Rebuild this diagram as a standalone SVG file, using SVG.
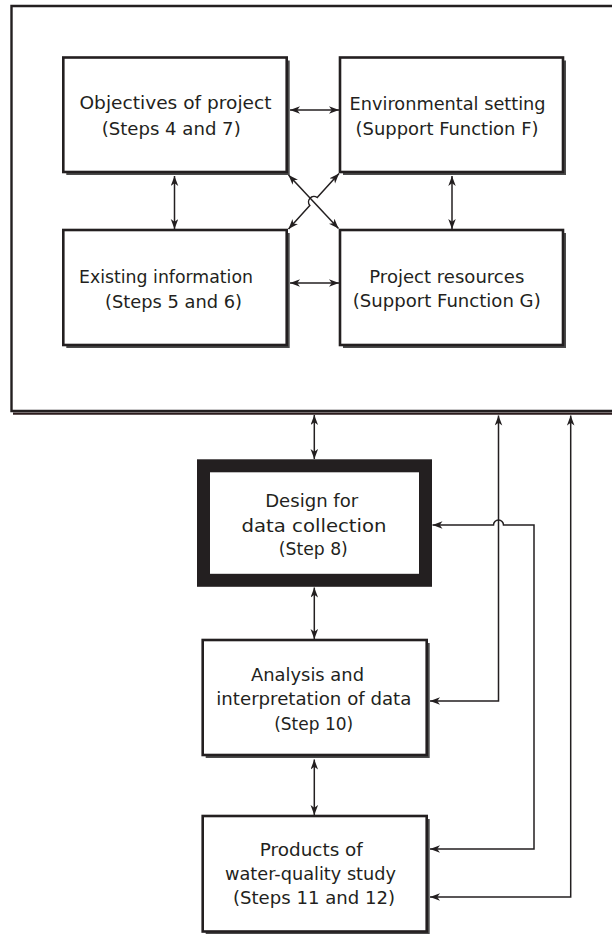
<svg xmlns="http://www.w3.org/2000/svg" width="612" height="934" viewBox="0 0 612 934">
  <style>
    .box { fill: #ffffff; stroke: #231f20; stroke-width: 2.6; }
    .shadow { fill: #4a4a4a; }
    .thick { fill: #ffffff; stroke: #231f20; stroke-width: 13; }
    .frame { fill: none; stroke: #231f20; stroke-width: 2.4; }
    .label { font-family: "DejaVu Sans", "Liberation Sans", sans-serif; font-size: 18.5px; fill: #231f20; text-anchor: middle; }
    .link { fill: none; stroke: #231f20; stroke-width: 1.5; marker-start: url(#head); marker-end: url(#head); }
  </style>
  <defs>
    <marker id="head" markerUnits="userSpaceOnUse" markerWidth="11" markerHeight="8" refX="10" refY="3.75" orient="auto-start-reverse">
      <path d="M0,0 L10,3.75 L0,7.5 L2.8,3.75 Z" fill="#231f20"/>
    </marker>
  </defs>

  <rect width="612" height="934" fill="#ffffff"/>

  <!-- Enclosing planning frame (open to the right) -->
  <g id="planning-frame">
    <path class="frame" d="M620,6 L11.5,6 L11.5,411 L620,411"/>
    <line x1="13" y1="413.6" x2="612" y2="413.6" stroke="#2b1b1c" stroke-width="2.2"/>
  </g>

  <g id="objectives">
    <rect class="shadow" x="66.3" y="60.5" width="223.4" height="114.5"/>
    <rect class="box" x="63.3" y="57.5" width="223.4" height="114.5"/>
    <text class="label" x="175.5" y="109.3" textLength="192" lengthAdjust="spacingAndGlyphs">Objectives of project</text>
    <text class="label" x="171.2" y="135" textLength="139" lengthAdjust="spacingAndGlyphs">(Steps 4 and 7)</text>
  </g>

  <g id="environmental-setting">
    <rect class="shadow" x="343" y="60.5" width="223" height="114.5"/>
    <rect class="box" x="340" y="57.5" width="223" height="114.5"/>
    <text class="label" x="447.6" y="110" textLength="196" lengthAdjust="spacingAndGlyphs">Environmental setting</text>
    <text class="label" x="447" y="135" textLength="183" lengthAdjust="spacingAndGlyphs">(Support Function F)</text>
  </g>

  <g id="existing-information">
    <rect class="shadow" x="66.3" y="233" width="223.4" height="115"/>
    <rect class="box" x="63.3" y="230" width="223.4" height="115"/>
    <text class="label" x="166" y="283" textLength="174" lengthAdjust="spacingAndGlyphs">Existing information</text>
    <text class="label" x="173.5" y="307.5" textLength="137" lengthAdjust="spacingAndGlyphs">(Steps 5 and 6)</text>
  </g>

  <g id="project-resources">
    <rect class="shadow" x="343" y="233" width="223" height="115"/>
    <rect class="box" x="340" y="230" width="223" height="115"/>
    <text class="label" x="446.8" y="283.3" textLength="155" lengthAdjust="spacingAndGlyphs">Project resources</text>
    <text class="label" x="446.7" y="307.3" textLength="188" lengthAdjust="spacingAndGlyphs">(Support Function G)</text>
  </g>

  <g id="design">
    <rect class="thick" x="203.5" y="465.8" width="222" height="114.5"/>
    <text class="label" x="311.7" y="506.7" textLength="93" lengthAdjust="spacingAndGlyphs">Design for</text>
    <text class="label" x="314" y="531.7" textLength="145" lengthAdjust="spacingAndGlyphs">data collection</text>
    <text class="label" x="313.3" y="554.5" textLength="69" lengthAdjust="spacingAndGlyphs">(Step 8)</text>
  </g>

  <g id="analysis">
    <rect class="shadow" x="205.7" y="643" width="224" height="115"/>
    <rect class="box" x="202.7" y="640" width="224" height="115"/>
    <text class="label" x="307.5" y="680.5" textLength="113" lengthAdjust="spacingAndGlyphs">Analysis and</text>
    <text class="label" x="313.8" y="705" textLength="195" lengthAdjust="spacingAndGlyphs">interpretation of data</text>
    <text class="label" x="313.7" y="730" textLength="79" lengthAdjust="spacingAndGlyphs">(Step 10)</text>
  </g>

  <g id="products">
    <rect class="shadow" x="205.7" y="819" width="224" height="115.5"/>
    <rect class="box" x="202.7" y="816" width="224" height="115.5"/>
    <text class="label" x="311.3" y="856" textLength="103" lengthAdjust="spacingAndGlyphs">Products of</text>
    <text class="label" x="310.5" y="880" textLength="171" lengthAdjust="spacingAndGlyphs">water-quality study</text>
    <text class="label" x="314" y="904" textLength="162" lengthAdjust="spacingAndGlyphs">(Steps 11 and 12)</text>
  </g>

  <!-- Connectors -->
  <g id="connectors">
    <path class="link" d="M290,110 L339,110"/>
    <path class="link" d="M290,283 L339,283"/>
    <path class="link" d="M174.5,176 L174.5,229"/>
    <path class="link" d="M452,176 L452,229"/>
    <path class="link" d="M288.5,175 L338.5,228.5"/>
    <path class="link" d="M288.5,229 L309.8,205.5 A5.5,5.5 0 0 1 317.2,197.5 L339,173.5"/>
    <path class="link" d="M314.3,415 L314.3,459"/>
    <path class="link" d="M314.3,587.5 L314.3,639"/>
    <path class="link" d="M314.3,759.5 L314.3,815"/>
    <path class="link" d="M430,701 L498.5,701 L498.5,415.5"/>
    <path class="link" d="M432.5,525 L493.5,525 A5,5 0 0 1 503.5,525 L534,525 L534,849 L430,849"/>
    <path class="link" d="M570.7,415.5 L570.7,897 L430,897"/>
  </g>
</svg>
